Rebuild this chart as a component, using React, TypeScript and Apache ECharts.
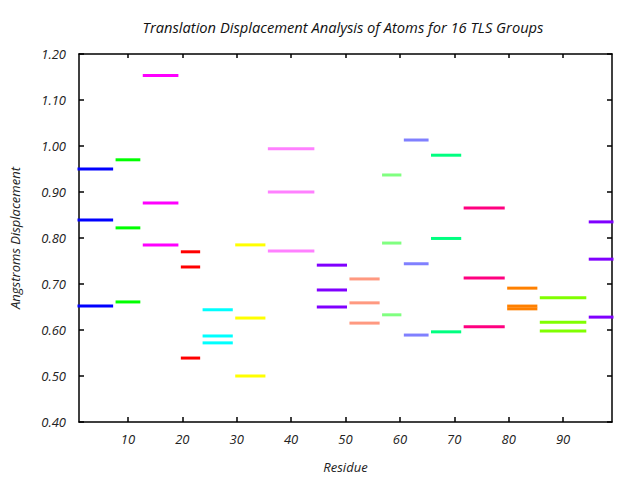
import React, { useEffect, useRef } from "react";
import * as echarts from "echarts";

const groupStarts = [1, 8, 13, 20, 24, 30, 36, 45, 51, 57, 61, 66, 72, 80, 86, 95];
const groupEnds = [7, 12, 19, 23, 29, 35, 44, 50, 56, 60, 65, 71, 79, 85, 94, 99];
const groupColors = [
  "#0000ff", "#00ff00", "#ff00ff", "#ff0000", "#00ffff", "#ffff00", "#ff80ff", "#8000ff",
  "#ff9980", "#80ff80", "#8080ff", "#00ff80", "#ff0080", "#ff8000", "#80ff00", "#8000ff",
];
const displacementA = [0.95, 0.97, 1.153, 0.77, 0.644, 0.785, 0.994, 0.741, 0.711, 0.937, 1.013, 0.98, 0.865, 0.691, 0.67, 0.835];
const displacementB = [0.839, 0.822, 0.876, 0.737, 0.587, 0.626, 0.9, 0.687, 0.659, 0.789, 0.744, 0.799, 0.713, 0.652, 0.617, 0.754];
const displacementC = [0.652, 0.661, 0.785, 0.539, 0.572, 0.5, 0.772, 0.65, 0.615, 0.633, 0.589, 0.596, 0.607, 0.646, 0.598, 0.628];
const xTicks = [10, 20, 30, 40, 50, 60, 70, 80, 90];

const FONT = "'Open Sans', 'DejaVu Sans', sans-serif";

export default function App() {
  const ref = useRef<HTMLDivElement>(null);
  useEffect(() => {
    if (!ref.current) return;
    const chart = echarts.init(ref.current, undefined, { renderer: "svg" });
    const rows: number[][] = [];
    [displacementA, displacementB, displacementC].forEach((arr) => {
      arr.forEach((v, i) => rows.push([groupStarts[i], groupEnds[i], v, i]));
    });
    const labelStyle = { fontFamily: FONT, fontStyle: "italic", fontSize: 13, color: "#222" };
    chart.setOption({
      animation: false,
      backgroundColor: "#fff",
      title: {
        text: "Translation Displacement Analysis of Atoms for 16 TLS Groups",
        left: 338,
        top: 14,
        textAlign: "center",
        textStyle: { fontFamily: FONT, fontStyle: "italic", fontWeight: "normal", fontSize: 14.7, color: "#111" },
      },
      grid: { left: 76, right: 28, top: 54, bottom: 58, containLabel: false },
      xAxis: [
        {
          type: "value",
          min: 1,
          max: 99,
          position: "bottom",
          name: "Residue",
          nameLocation: "middle",
          nameGap: 38,
          nameTextStyle: { ...labelStyle, fontSize: 13 },
          axisLine: { show: true, lineStyle: { color: "#000", width: 1.5 } },
          axisTick: { show: true, inside: true, length: 5, customValues: xTicks, lineStyle: { color: "#000", width: 1.5 } },
          axisLabel: { ...labelStyle, customValues: xTicks, margin: 10 },
          splitLine: { show: false },
        },
        {
          type: "value",
          min: 1,
          max: 99,
          position: "top",
          axisLine: { show: true, lineStyle: { color: "#000", width: 1.5 } },
          axisTick: { show: true, inside: true, length: 4, customValues: xTicks, lineStyle: { color: "#000", width: 1.5 } },
          axisLabel: { show: false },
          splitLine: { show: false },
        },
      ],
      yAxis: [
        {
          type: "value",
          min: 0.4,
          max: 1.2,
          interval: 0.1,
          position: "left",
          name: "Angstroms Displacement",
          nameLocation: "middle",
          nameGap: 58,
          nameTextStyle: { ...labelStyle, fontSize: 13 },
          axisLine: { show: true, lineStyle: { color: "#000", width: 1.5 } },
          axisTick: { show: true, inside: true, length: 5, lineStyle: { color: "#000", width: 1.5 } },
          axisLabel: { ...labelStyle, margin: 13, formatter: (v: number) => v.toFixed(2) },
          splitLine: { show: false },
        },
        {
          type: "value",
          min: 0.4,
          max: 1.2,
          interval: 0.1,
          position: "right",
          axisLine: { show: true, lineStyle: { color: "#000", width: 1.5 } },
          axisTick: { show: true, inside: true, length: 5, lineStyle: { color: "#000", width: 1.5 } },
          axisLabel: { show: false },
          splitLine: { show: false },
        },
      ],
      series: [
        {
          type: "custom",
          xAxisIndex: 0,
          yAxisIndex: 0,
          clip: false,
          data: rows,
          renderItem: (params: any, api: any) => {
            const s = api.value(0);
            const e = api.value(1);
            const v = api.value(2);
            const g = api.value(3);
            const p1 = api.coord([s, v]);
            const p2 = api.coord([e, v]);
            return {
              type: "line",
              shape: { x1: p1[0], y1: p1[1], x2: p2[0], y2: p2[1] },
              style: { stroke: groupColors[g], lineWidth: 3, lineCap: "square" },
            };
          },
        },
      ],
    });
    return () => chart.dispose();
  }, []);
  return <div ref={ref} style={{ width: 640, height: 480, position: "absolute", left: 0, top: 0 }} />;
}
